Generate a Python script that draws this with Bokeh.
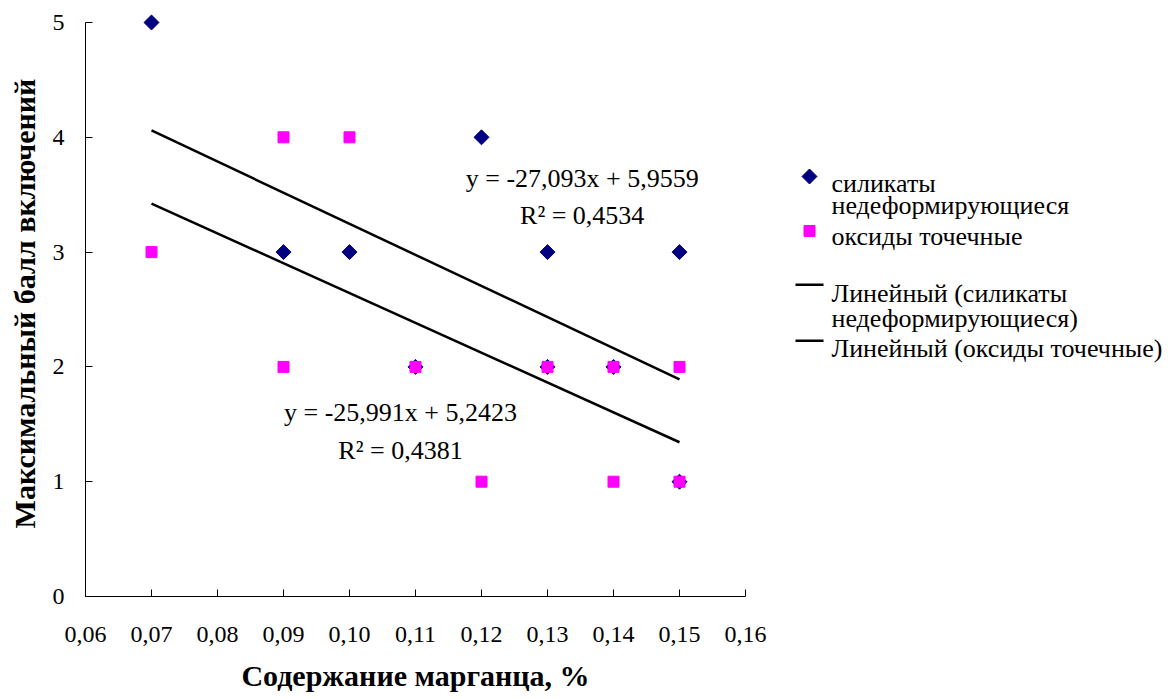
import numpy as np
from bokeh.plotting import figure
from bokeh.models import Range1d, FixedTicker, Label
from bokeh.layouts import row
from bokeh.embed import file_html
from bokeh.resources import INLINE
from bokeh.core.properties import value

# ---- data ----
sil_x = [0.07, 0.09, 0.10, 0.11, 0.12, 0.13, 0.13, 0.14, 0.15, 0.15]
sil_y = [5, 3, 3, 2, 4, 3, 2, 2, 3, 1]
oxi_x = [0.07, 0.09, 0.09, 0.10, 0.11, 0.12, 0.13, 0.14, 0.14, 0.15, 0.15]
oxi_y = [3, 4, 2, 4, 2, 1, 2, 2, 1, 2, 1]
sil_fit = (-27.093, 5.9559)
oxi_fit = (-25.991, 5.2423)
fit_x = [0.07, 0.15]
x_ticks = [0.06, 0.07, 0.08, 0.09, 0.10, 0.11, 0.12, 0.13, 0.14, 0.15, 0.16]
x_labels = ["0,06", "0,07", "0,08", "0,09", "0,10", "0,11", "0,12", "0,13", "0,14", "0,15", "0,16"]
y_ticks = [0, 1, 2, 3, 4, 5]
sil_name = "силикаты недеформирующиеся"
oxi_name = "оксиды точечные"
eq1 = ["y = -27,093x + 5,9559", "R² = 0,4534"]
eq2 = ["y = -25,991x + 5,2423", "R² = 0,4381"]
x_title = "Содержание марганца, %"
y_title = "Максимальный балл включений"

FONT = "'Liberation Serif', 'Times New Roman', 'DejaVu Serif', serif"
NAVY = "#000080"
MAGENTA = "#FF00FF"

# y range extends a little above 5 so the top marker is not clipped; axis line bounded to 0..5
p = figure(width=775, height=699, x_range=Range1d(0.06, 0.16), y_range=Range1d(0, 5.1045),
           output_backend="svg", toolbar_location=None,
           min_border_left=85, min_border_top=10, min_border_right=30, min_border_bottom=103)
p.outline_line_color = None
p.grid.visible = False
p.background_fill_color = "white"

p.xaxis.ticker = FixedTicker(ticks=x_ticks)
p.xaxis.major_label_overrides = {t: l for t, l in zip(x_ticks, x_labels)}
p.yaxis.ticker = FixedTicker(ticks=y_ticks)
p.yaxis.bounds = (0, 5)
for ax in (p.xaxis[0], p.yaxis[0]):
    ax.axis_line_color = "black"
    ax.major_tick_line_color = "black"
    ax.minor_tick_line_color = None
    ax.major_tick_in = 7
    ax.major_tick_out = 0
    ax.major_label_text_font = FONT
    ax.major_label_text_font_size = "24px"
    ax.major_label_text_color = "black"
    ax.axis_label_text_font = FONT
    ax.axis_label_text_font_size = "30px"
    ax.axis_label_text_font_style = "bold"
    ax.axis_label_text_color = "black"
p.xaxis.axis_label = x_title
p.yaxis.axis_label = y_title
p.xaxis.major_label_standoff = 30
p.xaxis.axis_label_standoff = 14
p.yaxis.major_label_standoff = 21
p.yaxis.axis_label_standoff = 9

p.scatter(sil_x, sil_y, marker="square", angle=np.pi / 4, size=10.6,
          fill_color=NAVY, line_color=NAVY)
p.scatter(oxi_x, oxi_y, marker="square", size=11, fill_color=MAGENTA, line_color=MAGENTA)

for m, b in (sil_fit, oxi_fit):
    p.line(fit_x, [m * xx + b for xx in fit_x], line_color="black", line_width=2.5)

for txt, xx, yy in ((eq1[0], 0.13526, 3.641), (eq1[1], 0.13526, 3.319),
                    (eq2[0], 0.10773, 1.605), (eq2[1], 0.10773, 1.272)):
    p.add_layout(Label(x=xx, y=yy, text=txt, text_align="center", text_baseline="alphabetic",
                       text_font=FONT, text_font_size="26px", text_color="black"))

# ---- legend panel ----
lf = figure(width=396, height=699, x_range=Range1d(0, 396), y_range=Range1d(699, 0),
            x_axis_type=None, y_axis_type=None, min_border=0,
            output_backend="svg", toolbar_location=None)
lf.outline_line_color = None
lf.grid.visible = False

lf.scatter([34], [198], marker="square", angle=np.pi / 4, size=10.6, fill_color=NAVY, line_color=NAVY)
lf.scatter([34], [263], marker="square", size=11, fill_color=MAGENTA, line_color=MAGENTA)
lf.segment(x0=[20, 20], y0=[327, 394], x1=[48, 48], y1=[327, 394], line_color="black", line_width=2.5)

sil_words = sil_name.split(" ")
leg_texts = [sil_words[0], sil_words[1], oxi_name,
             "Линейный (" + sil_words[0], sil_words[1] + ")",
             "Линейный (" + oxi_name + ")"]
leg_y = [206, 233, 270, 337, 367, 403]
lf.text(x=[56] * len(leg_texts), y=leg_y, text=leg_texts, text_font=value(FONT),
        text_font_size="26px", text_baseline="alphabetic", text_align="left", text_color="black")

layout = row(p, lf)
open("out.html", "w").write(file_html(layout, INLINE))
